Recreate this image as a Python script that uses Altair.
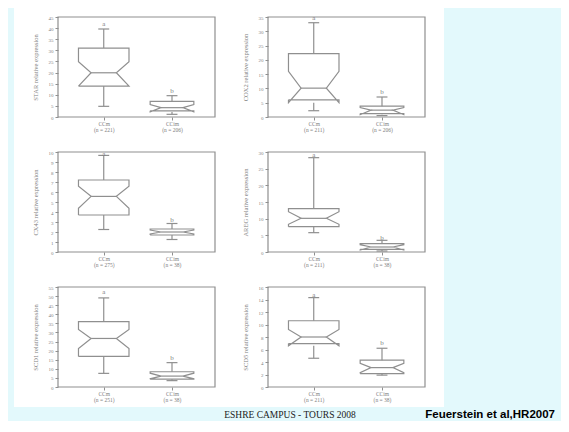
import altair as alt
import pandas as pd

# ---------------- data ----------------
genes = ["STAR", "COX2", "CX43", "AREG", "SCD1", "SCD5"]
y_max = [45, 35, 10, 30, 55, 16]
y_step = [5, 5, 1, 5, 5, 2]
group_names = ["CCm", "CCim"]
n_first = [221, 211, 275, 211, 251, 211]
n_second = [206, 206, 38, 38, 38, 38]
letters = ["a", "b"]

# per gene: [first group, second group]
whisker_low = [[4.8, 1.2], [2.2, 0.5], [2.25, 1.25], [5.8, 0.3], [7.5, 3.5], [4.6, 1.9]]
q1 = [[13.9, 2.8], [6.0, 1.2], [3.7, 1.7], [7.6, 0.8], [16.8, 4.3], [6.95, 2.15]]
notch_low = [[13.9, 2.3], [5.0, 0.8], [4.37, 1.8], [8.3, 0.6], [21.1, 4.5], [6.6, 2.3]]
median = [[19.9, 4.2], [10.1, 2.4], [5.56, 2.0], [10.1, 1.5], [26.7, 6.0], [8.0, 3.1]]
notch_high = [[24.9, 5.6], [16.0, 3.3], [6.57, 2.2], [12.1, 2.2], [31.7, 7.6], [9.2, 3.8]]
q3 = [[31.0, 7.0], [22.2, 3.8], [7.2, 2.3], [13.0, 2.5], [36.0, 8.4], [10.6, 4.3]]
whisker_high = [[39.6, 9.6], [33.0, 7.0], [9.66, 2.85], [28.3, 3.5], [49.0, 13.4], [14.3, 6.2]]
letter_y = [[41.8, 11.7], [34.5, 8.8], [9.85, 3.2], [29.2, 4.3], [52.0, 16.2], [14.8, 7.0]]

footer_left = "ESHRE CAMPUS - TOURS 2008"
footer_right = "Feuerstein et al,HR2007"

# ---------------- styling ----------------
BG = "#E3F9FC"
LINE = "#8f8f8f"
TEXT = "#808080"
SERIF = "Liberation Serif"
HALF = [0.37, 0.32]
CAP = 0.08
PW, PH = 157, 100
SW = 1.2


def panel(i, first=False):
    out_rows, wh_rows, cap_rows, med_rows, let_rows = [], [], [], [], []
    for g in range(2):
        c = g + 1
        hw = HALF[g]
        lo, nlo, md, nhi, hi = q1[i][g], notch_low[i][g], median[i][g], notch_high[i][g], q3[i][g]
        pts = [(c - hw, lo), (c - hw, nlo), (c - hw / 2, md), (c - hw, nhi), (c - hw, hi),
               (c + hw, hi), (c + hw, nhi), (c + hw / 2, md), (c + hw, nlo), (c + hw, lo),
               (c - hw, lo)]
        for k, (px, py) in enumerate(pts):
            out_rows.append({"g": g, "o": k, "x": px, "y": py})
        wh_rows.append({"x": c, "y": hi, "y2": whisker_high[i][g]})
        wh_rows.append({"x": c, "y": min(lo, nlo), "y2": whisker_low[i][g]})
        cap_rows.append({"x": c - CAP, "x2": c + CAP, "y": whisker_high[i][g]})
        cap_rows.append({"x": c - CAP, "x2": c + CAP, "y": whisker_low[i][g]})
        med_rows.append({"x": c - hw / 2, "x2": c + hw / 2, "y": md})
        let_rows.append({"x": c, "y": letter_y[i][g], "t": letters[g]})

    xs = alt.Scale(domain=[0.33, 2.63], nice=False, zero=False)
    ys = alt.Scale(domain=[0, y_max[i]], nice=False, zero=True)
    label_expr = (
        f"datum.value == 1 ? ['{group_names[0]}', '(n = {n_first[i]})'] : "
        f"['{group_names[1]}', '(n = {n_second[i]})']"
    )
    x_axis = alt.Axis(values=[1, 2], labelExpr=label_expr, title=None, grid=False,
                      domain=False, tickSize=3, tickColor=LINE, labelFont=SERIF,
                      labelFontSize=5.5, labelLineHeight=6.5, labelColor=TEXT,
                      labelPadding=1, labelOverlap=False, zindex=1)
    y_axis = alt.Axis(values=list(range(0, y_max[i] + 1, y_step[i])),
                      title=f"{genes[i]} relative expression", grid=False, domain=False,
                      tickSize=3, tickColor=LINE, labelFont=SERIF, labelFontSize=5,
                      labelColor=TEXT, labelPadding=2, labelOverlap=False,
                      labelFlush=False, titleFont=SERIF,
                      titleFontSize=6.5, titleFontWeight="normal", titleColor=TEXT,
                      titlePadding=10, zindex=1)

    X = alt.X("x:Q", scale=xs, axis=x_axis)
    Y = alt.Y("y:Q", scale=ys, axis=y_axis)

    one = pd.DataFrame({"k": [0]})
    frame = alt.Chart(one).mark_rect(filled=False, color=LINE, strokeWidth=SW).encode(
        x=alt.value(0), x2=alt.value("width"), y=alt.value(0), y2=alt.value("height"))

    outline = alt.Chart(pd.DataFrame(out_rows)).mark_line(color=LINE, strokeWidth=SW).encode(
        x=X, y=Y, order="o:Q", detail="g:N")
    whisk = alt.Chart(pd.DataFrame(wh_rows)).mark_rule(color=LINE, strokeWidth=SW).encode(
        x=X, y=Y, y2="y2:Q")
    caps = alt.Chart(pd.DataFrame(cap_rows)).mark_rule(color=LINE, strokeWidth=SW).encode(
        x=X, x2="x2:Q", y=Y)
    meds = alt.Chart(pd.DataFrame(med_rows)).mark_rule(color=LINE, strokeWidth=SW).encode(
        x=X, x2="x2:Q", y=Y)
    lets = alt.Chart(pd.DataFrame(let_rows)).mark_text(
        font=SERIF, fontSize=7, color=TEXT, baseline="middle").encode(
        x=X, y=Y, text="t:N")

    layers = [frame, outline, whisk, caps, meds, lets]
    if first:
        white = alt.Chart(one).mark_rect(color="white").encode(
            x=alt.value(-44), x2=alt.value(386), y=alt.value(-9), y2=alt.value(390))
        foot1 = alt.Chart(one).mark_text(font=SERIF, fontSize=9.5, color="#222222",
                                         align="center", baseline="middle").encode(
            x=alt.value(232), y=alt.value(398), text=alt.value(footer_left))
        foot2 = alt.Chart(one).mark_text(font="Liberation Sans", fontSize=11.5,
                                         fontWeight="bold", color="#000000",
                                         align="right", baseline="middle").encode(
            x=alt.value(497), y=alt.value(398), text=alt.value(footer_right))
        layers = [white] + layers + [foot1, foot2]
    return alt.layer(*layers).properties(width=PW, height=PH)


panels = [panel(i, first=(i == 0)) for i in range(6)]

chart = alt.concat(
    *panels, columns=2, spacing={"row": 35, "column": 53}, bounds="flush"
).properties(
    background=BG, padding={"left": 6, "top": 0, "right": 6, "bottom": 0}
).configure_view(stroke=None)

chart.save("out.html", embed_options={"renderer": "svg", "actions": False})
